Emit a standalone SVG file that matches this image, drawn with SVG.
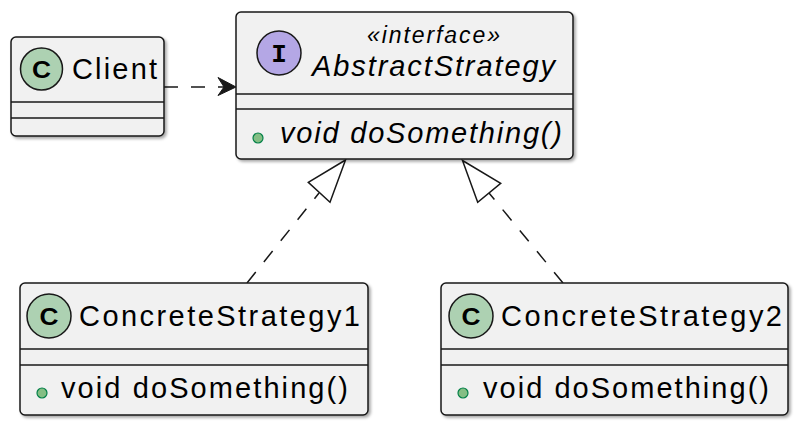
<svg xmlns="http://www.w3.org/2000/svg" width="810" height="428" viewBox="0 0 810 428">
<defs>
<filter id="sh" x="-10%" y="-10%" width="120%" height="120%">
<feDropShadow dx="2" dy="2" stdDeviation="1.5" flood-color="#000" flood-opacity="0.35"/>
</filter>
<style>
.box{fill:#F1F1F1;stroke:#181818;stroke-width:1.5;filter:url(#sh)}
.sep{stroke:#181818;stroke-width:1.5}
.cc{fill:#ADD1B2;stroke:#181818;stroke-width:1.5}
.ci{fill:#B4A7E5;stroke:#181818;stroke-width:1.5}
.dot{fill:#84BE84;stroke:#038048;stroke-width:1.2}
.t{font-family:"Liberation Sans",Arial,sans-serif;font-size:29px;fill:#000}
.it{font-style:italic}
.lt{font-family:"Liberation Sans",Arial,sans-serif;font-size:23px;font-weight:bold;fill:#000;text-anchor:middle}
.li{font-family:"Liberation Mono","DejaVu Sans Mono",monospace;font-size:26px;font-weight:bold;fill:#000;text-anchor:middle}
.dash{fill:none;stroke:#181818;stroke-width:1.5;stroke-dasharray:14,13}
.head{fill:#181818;stroke:#181818;stroke-width:1}
.tri{fill:none;stroke:#181818;stroke-width:1.5}
</style>
</defs>

<g id="connectors">
<line class="dash" x1="164" y1="87" x2="224" y2="87"/>
<polygon class="head" points="236,87 218,77.5 224,87 218,95.5"/>
<line class="dash" x1="247" y1="283" x2="319" y2="193"/>
<polygon class="tri" points="345.5,160 308.3,182.3 330,202.3"/>
<line class="dash" x1="563" y1="283" x2="489" y2="193"/>
<polygon class="tri" points="462.5,160.5 500.7,183.3 477.7,202.3"/>
</g>

<g id="Client">
<rect class="box" x="11" y="37" width="153" height="99" rx="5"/>
<circle class="cc" cx="41.5" cy="69" r="21"/>
<text class="lt" x="41.5" y="77.5" textLength="19" lengthAdjust="spacingAndGlyphs">C</text>
<text class="t" x="72" y="79" textLength="85" lengthAdjust="spacing">Client</text>
<line class="sep" x1="11" y1="102" x2="164" y2="102"/>
<line class="sep" x1="11" y1="118" x2="164" y2="118"/>
</g>

<g id="AbstractStrategy">
<rect class="box" x="236" y="12" width="337" height="147" rx="5"/>
<circle class="ci" cx="279" cy="53" r="22"/>
<text class="li" x="279" y="61.5">I</text>
<text class="t it" x="367" y="43" style="font-size:23px" textLength="133" lengthAdjust="spacing">«interface»</text>
<text class="t it" x="312" y="76" textLength="243" lengthAdjust="spacing">AbstractStrategy</text>
<line class="sep" x1="236" y1="94" x2="573" y2="94"/>
<line class="sep" x1="236" y1="109" x2="573" y2="109"/>
<circle class="dot" cx="258" cy="138" r="5"/>
<text class="t it" x="280" y="143" textLength="282" lengthAdjust="spacing">void doSomething()</text>
</g>

<g id="ConcreteStrategy1">
<rect class="box" x="20" y="283" width="348" height="132" rx="5"/>
<circle class="cc" cx="49" cy="316" r="22"/>
<text class="lt" x="49" y="324.5" textLength="19" lengthAdjust="spacingAndGlyphs">C</text>
<text class="t" x="79" y="326" textLength="281" lengthAdjust="spacing">ConcreteStrategy1</text>
<line class="sep" x1="20" y1="349" x2="368" y2="349"/>
<line class="sep" x1="20" y1="365" x2="368" y2="365"/>
<circle class="dot" cx="42" cy="393" r="5"/>
<text class="t" x="61" y="398" textLength="287" lengthAdjust="spacing">void doSomething()</text>
</g>

<g id="ConcreteStrategy2">
<rect class="box" x="441" y="283" width="347" height="132" rx="5"/>
<circle class="cc" cx="471" cy="316" r="22"/>
<text class="lt" x="471" y="324.5" textLength="19" lengthAdjust="spacingAndGlyphs">C</text>
<text class="t" x="501" y="326" textLength="281" lengthAdjust="spacing">ConcreteStrategy2</text>
<line class="sep" x1="441" y1="349" x2="788" y2="349"/>
<line class="sep" x1="441" y1="365" x2="788" y2="365"/>
<circle class="dot" cx="463" cy="393" r="5"/>
<text class="t" x="483" y="398" textLength="286" lengthAdjust="spacing">void doSomething()</text>
</g>
</svg>
